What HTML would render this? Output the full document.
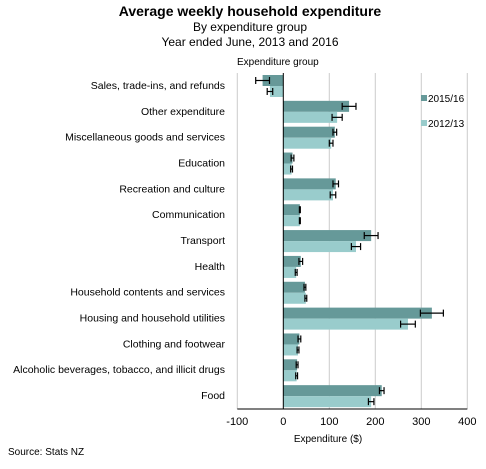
<!DOCTYPE html>
<html><head><meta charset="utf-8"><style>
body{margin:0;background:#fff;font-family:"Liberation Sans",Arial,sans-serif;}
svg text{font-family:"Liberation Sans",Arial,sans-serif;}
</style></head><body>
<svg id="c" width="486" height="464" xmlns="http://www.w3.org/2000/svg">
<text x="250" y="16" text-anchor="middle" font-size="14" font-weight="bold">Average weekly household expenditure</text>
<text x="250" y="31" text-anchor="middle" font-size="12">By expenditure  group</text>
<text x="250" y="46" text-anchor="middle" font-size="12">Year ended June, 2013 and 2016</text>
<text x="237" y="65" font-size="10">Expenditure group</text>
<text x="328" y="442" text-anchor="middle" font-size="10">Expenditure ($)</text>
<text x="8" y="455" font-size="10">Source: Stats NZ</text>
<g id="grid"></g><g id="bars"></g><g id="labels"></g>
<rect x="421" y="95" width="6" height="6" fill="#669999"/>
<text x="428" y="102" font-size="10">2015/16</text>
<rect x="421" y="120" width="6" height="6" fill="#99cccc"/>
<text x="428" y="127" font-size="10">2012/13</text>
</svg>
<script>
const categories=["Sales, trade-ins, and refunds","Other expenditure","Miscellaneous goods and services","Education","Recreation and culture","Communication","Transport","Health","Household contents and services","Housing and household utilities","Clothing and footwear","Alcoholic beverages, tobacco, and illicit drugs","Food"];
const values2016=[-45,143,112,20,114,36,191,38,47,323,35,30,214];
const errors2016=[15,15,4,3,6,1,15,4,2,25,3,2,5];
const values2013=[-29,117,104,18,108,36,158,28,49,271,32,29,191];
const errors2013=[6,11,4,2,6,1,10,2,2,16,2,2,6];
const ticks=[-100,0,100,200,300,400];
const NS="http://www.w3.org/2000/svg";
const x0=237.3,x1=467.3,vmin=-100,vmax=400,yTop=73,yBottom=409;
const X=v=>x0+(v-vmin)/(vmax-vmin)*(x1-x0);
const band=(yBottom-yTop)/categories.length;
function mk(t,a,p){const e=document.createElementNS(NS,t);for(const k in a)e.setAttribute(k,a[k]);p.appendChild(e);return e;}
const G=document.getElementById('grid'),B=document.getElementById('bars'),L=document.getElementById('labels');
ticks.forEach(t=>{
  if(t!==0){const l=mk('line',{x1:X(t),x2:X(t),y1:yTop,y2:yBottom,stroke:'#cccccc','stroke-width':1},G);
  
  }
  const tx=mk('text',{x:X(t),y:yBottom+16,'text-anchor':'middle','font-size':11},G);tx.textContent=t;
  
  
});
const ax=mk('line',{x1:x0,x2:x1,y1:yBottom,y2:yBottom,stroke:'#000','stroke-width':1},G);


function bar(v,e,y,h,col,name){
  const a=X(0),b=X(v);
  const r=mk('rect',{x:Math.min(a,b),y:y,width:Math.abs(b-a),height:h,fill:col},B);
  
  
  const cy=y+h/2,e1=X(v-e),e2=X(v+e);
  const g=mk('g',{stroke:'#000','stroke-width':1.2},B);
  
  
  mk('line',{x1:e1,x2:e2,y1:cy,y2:cy},g);
  mk('line',{x1:e1,x2:e1,y1:cy-3.5,y2:cy+3.5},g);
  mk('line',{x1:e2,x2:e2,y1:cy-3.5,y2:cy+3.5},g);
}
categories.forEach((c,i)=>{
  const y=yTop+i*band+2;
  bar(values2016[i],errors2016[i],y,11,'#669999','bar-2015-16');
  bar(values2013[i],errors2013[i],y+11,11,'#99cccc','bar-2012-13');
  const t=mk('text',{x:225,y:yTop+i*band+band/2+3,'text-anchor':'end','font-size':10.5},L);t.textContent=c;
  
  
});
const za=mk('line',{x1:X(0),x2:X(0),y1:yTop,y2:yBottom,stroke:'#000','stroke-width':1},L);


</script>
</body></html>
